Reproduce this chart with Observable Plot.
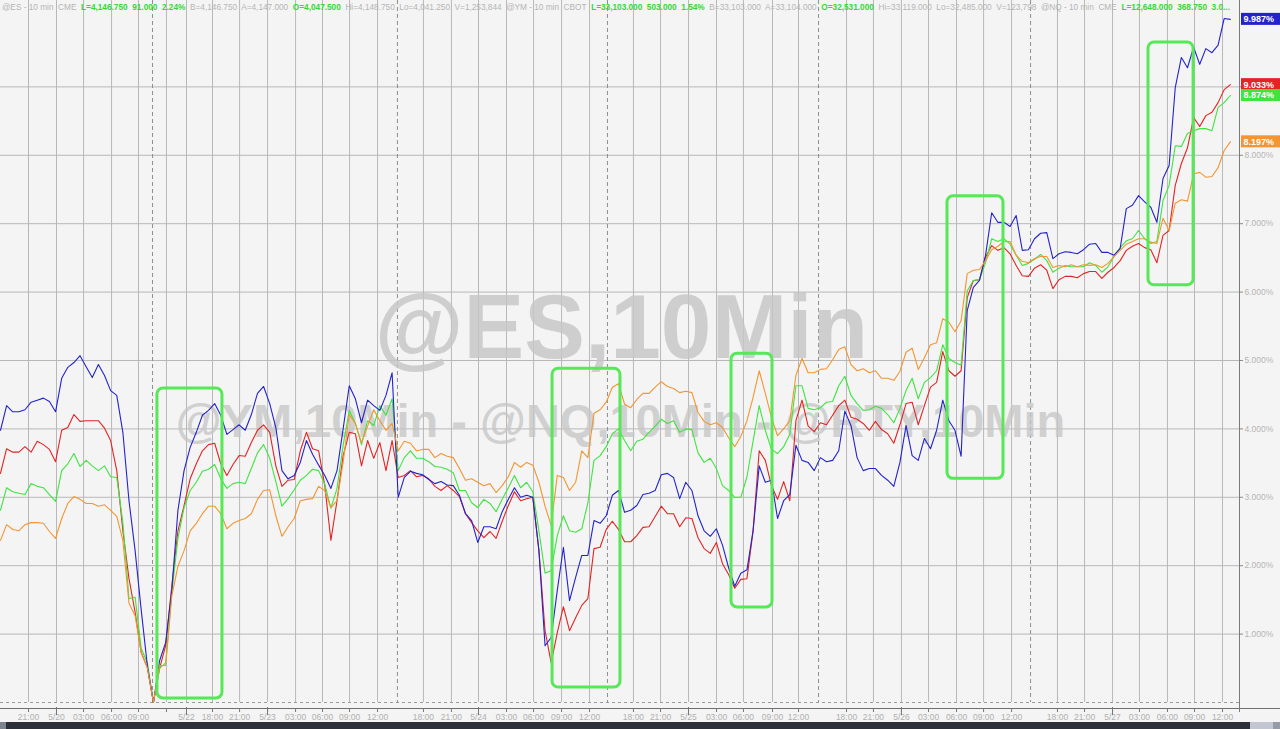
<!DOCTYPE html>
<html><head><meta charset="utf-8">
<script src="https://cdn.jsdelivr.net/npm/d3@7"></script>
<script src="https://cdn.jsdelivr.net/npm/@observablehq/plot@0.6"></script>
<style>
html,body{margin:0;padding:0;background:#f4f4f4;}
#wrap{position:relative;width:1280px;height:729px;overflow:hidden;background:#f4f4f4;font-family:"Liberation Sans",Arial,sans-serif;}
#chart svg{display:block;}
#header{position:absolute;left:0;top:0;}
#bar{position:absolute;left:0;top:722px;width:1280px;height:7px;background:#2c2f37;}
#bar .l{position:absolute;left:0;top:0;width:6px;height:7px;background:#7d8391;}
#bar .t{position:absolute;left:1250px;top:0;width:23px;height:7px;background:#c3c6d0;}
#bar .r{position:absolute;left:1273px;top:0;width:7px;height:7px;background:#969ba7;}
</style></head><body>
<div id="wrap"><div id="chart"></div><svg id="header" width="1280" height="13"></svg><div id="bar"><div class="l"></div><div class="t"></div><div class="r"></div></div></div>
<script>
// 10-minute bars; one sample every 4 bars (40 min of chart time)
const barsPerSample = 4;

// @ES (red), % change from the low
const es = [3.35,3.71,3.66,3.66,3.74,3.66,3.82,3.77,3.70,3.52,
3.98,4.02,4.21,4.11,4.12,4.12,4.12,4.01,3.83,3.39,
2.51,1.81,1.32,0.73,0.51,0.00,0.50,0.83,1.71,2.51,
2.88,3.27,3.49,3.68,3.77,3.79,3.49,3.32,3.48,3.61,
3.60,3.80,3.98,4.06,3.95,3.46,3.16,3.25,3.26,3.68,
3.95,3.71,3.68,3.17,2.37,2.95,3.61,3.95,3.93,3.46,
3.83,3.57,3.80,3.39,3.83,3.29,3.32,3.39,3.30,3.32,
3.27,3.16,3.10,3.17,3.10,3.01,2.76,2.63,2.51,2.41,
2.50,2.40,2.65,2.88,3.08,2.95,2.98,3.00,2.22,1.05,
0.58,1.02,1.40,1.05,1.24,1.42,1.52,2.25,2.27,2.53,
2.65,2.53,2.35,2.35,2.44,2.56,2.57,2.72,2.87,2.76,
2.76,2.57,2.70,2.69,2.41,2.25,2.18,2.34,2.03,1.87,
1.67,1.80,1.81,2.51,3.68,3.54,3.17,2.97,3.23,2.95,
4.12,4.42,4.04,3.96,4.09,4.06,4.20,4.34,4.42,4.17,
4.14,4.08,3.98,4.11,3.99,3.93,3.79,4.06,4.37,4.39,
4.06,4.34,4.61,4.68,5.13,4.85,4.77,4.85,5.92,6.17,
6.18,6.51,6.68,6.61,6.65,6.56,6.39,6.24,6.23,6.35,
6.40,6.32,6.05,6.18,6.23,6.23,6.21,6.27,6.30,6.30,
6.20,6.29,6.36,6.46,6.61,6.67,6.71,6.65,6.62,6.43,
6.83,6.90,7.56,7.88,8.11,8.55,8.42,8.58,8.63,8.77,
8.96,9.033];

// @YM (green)
const ym = [2.81,3.14,3.08,3.06,3.04,3.20,3.16,3.14,3.04,2.94,
3.39,3.49,3.64,3.45,3.54,3.46,3.39,3.46,3.30,3.29,
2.63,1.52,1.54,0.79,0.58,0.00,0.50,0.58,1.61,2.40,
2.85,3.10,3.22,3.38,3.41,3.48,3.27,3.13,3.20,3.22,
3.20,3.42,3.65,3.77,3.57,3.23,2.87,2.98,3.11,3.25,
3.32,3.41,3.39,3.19,2.84,3.13,3.76,4.27,4.08,3.77,
4.12,4.05,4.34,4.20,4.44,3.39,3.58,3.68,3.57,3.57,
3.52,3.45,3.44,3.41,3.36,3.10,3.10,2.92,2.85,2.97,
2.91,2.79,2.97,3.14,3.32,3.14,3.22,3.08,2.51,1.89,
1.93,2.44,2.73,2.51,2.49,2.54,2.92,3.54,3.61,3.74,
3.93,4.00,3.83,3.68,3.82,3.85,3.95,4.04,4.14,4.08,
4.12,3.95,4.00,3.99,3.65,3.51,3.57,3.42,3.17,3.10,
3.00,3.00,3.30,3.82,4.34,3.98,3.70,3.64,3.74,3.92,
4.63,4.63,4.30,4.28,4.31,4.39,4.40,4.63,4.77,4.49,
4.37,4.27,4.28,4.33,4.30,4.21,4.09,4.30,4.56,4.74,
4.44,4.68,4.75,4.85,5.23,5.03,4.97,4.93,6.02,6.17,
6.18,6.43,6.78,6.74,6.78,6.70,6.54,6.39,6.42,6.48,
6.55,6.46,6.29,6.35,6.39,6.37,6.37,6.37,6.43,6.39,
6.29,6.37,6.52,6.65,6.75,6.78,6.90,6.78,6.71,6.74,
7.34,7.56,8.14,8.13,8.32,8.36,8.39,8.39,8.36,8.70,
8.77,8.874];

// @NQ (blue)
const nq = [3.98,4.34,4.25,4.25,4.28,4.39,4.42,4.45,4.40,4.25,
4.74,4.90,4.97,5.07,4.91,4.75,4.94,4.78,4.56,4.49,
3.95,2.95,2.22,1.35,0.54,0.00,0.61,0.88,1.64,2.81,
3.39,3.73,3.95,4.20,4.27,4.37,4.20,3.92,3.99,4.06,
3.98,4.21,4.52,4.62,4.37,4.02,3.39,3.27,3.32,3.51,
3.83,3.63,3.47,3.32,3.13,3.39,4.00,4.63,4.44,4.09,
4.42,4.34,4.27,4.49,4.82,3.00,3.29,3.38,3.35,3.33,
3.26,3.20,3.23,3.18,3.17,3.03,2.76,2.66,2.34,2.57,
2.57,2.54,2.79,2.97,3.14,3.00,3.03,3.00,2.22,0.83,
0.95,1.64,2.27,1.49,1.83,2.15,2.15,2.66,2.62,2.73,
3.03,3.10,2.78,2.81,2.88,3.04,3.06,3.10,3.33,3.35,
3.29,2.98,3.22,3.10,2.73,2.51,2.43,2.54,2.30,1.97,
1.70,1.89,1.94,2.51,3.46,3.22,3.25,2.69,2.95,3.04,
3.76,3.54,3.51,3.39,3.58,3.52,3.54,3.68,4.26,4.05,
3.58,3.39,3.42,3.42,3.32,3.25,3.16,3.51,4.05,3.61,
3.54,3.86,3.71,3.98,4.42,4.12,3.98,3.60,5.73,6.07,
6.17,6.54,7.16,7.02,7.02,6.96,7.12,6.61,6.62,6.78,
6.86,6.87,6.49,6.56,6.59,6.58,6.56,6.62,6.70,6.71,
6.58,6.58,6.54,6.64,7.22,7.27,7.41,7.32,7.24,7.02,
7.66,7.85,8.99,9.43,9.28,9.58,9.33,9.56,9.50,9.61,
10.00,9.987];

// @RTY (orange)
const rty = [2.37,2.60,2.53,2.51,2.60,2.63,2.63,2.62,2.50,2.40,
2.69,2.91,3.01,2.97,2.91,2.91,2.87,2.89,2.81,2.72,
2.37,1.45,1.27,0.73,0.51,0.00,0.54,0.54,1.56,1.99,
2.22,2.51,2.62,2.76,2.87,2.87,2.76,2.54,2.62,2.66,
2.69,2.76,2.97,3.10,3.11,2.73,2.43,2.57,2.69,2.95,
2.97,2.98,3.16,3.10,2.85,2.95,3.51,4.21,4.08,3.80,
4.04,4.28,4.12,3.98,4.08,3.68,3.82,3.79,3.68,3.70,
3.70,3.58,3.64,3.60,3.58,3.42,3.25,3.27,3.22,3.17,
3.20,3.07,3.17,3.30,3.51,3.44,3.51,3.47,3.22,2.87,
2.59,3.32,3.29,3.10,3.22,3.68,3.58,4.23,4.28,4.39,
4.61,4.66,4.36,4.31,4.43,4.52,4.52,4.61,4.69,4.62,
4.59,4.53,4.55,4.53,4.24,4.11,4.06,4.09,4.02,3.87,
3.74,3.89,4.12,4.46,4.85,4.52,4.17,3.90,4.00,4.12,
4.78,5.03,4.82,4.82,4.87,4.88,5.01,5.16,5.20,4.94,
4.85,4.88,4.82,4.85,4.74,4.74,4.71,4.84,5.12,5.18,
4.87,5.04,5.23,5.26,5.61,5.56,5.42,5.58,6.27,6.32,
6.33,6.46,6.62,6.67,6.74,6.74,6.54,6.45,6.43,6.49,
6.52,6.52,6.36,6.39,6.37,6.40,6.37,6.40,6.39,6.40,
6.36,6.42,6.52,6.61,6.70,6.74,6.78,6.78,6.73,6.71,
7.08,6.90,7.30,7.35,7.33,7.73,7.75,7.68,7.69,7.82,
8.07,8.197];

// x axis (bar positions of the time ticks) and labels
const tickBars = [18.3,36.6,54.3,72.6,90.2,108.5,121.6,
138.6,156.3,174.6,192.9,210.5,228.2,246.5,
276.5,294.8,312.5,330.8,348.5,366.8,385.1,
413.8,431.5,449.8,468.1,485.7,504.7,521.7,
553.1,570.7,589.0,606.7,625.0,642.7,661.0,
691.0,708.7,727.0,744.6,762.9,780.6,798.9];
const tickLabels = ["21:00","5/20","03:00","06:00","09:00","","5/22",
"18:00","21:00","5/23","03:00","06:00","09:00","12:00",
"18:00","21:00","5/24","03:00","06:00","09:00","12:00",
"18:00","21:00","5/25","03:00","06:00","09:00","12:00",
"18:00","21:00","5/26","03:00","06:00","09:00","12:00",
"18:00","21:00","5/27","03:00","06:00","09:00","12:00"];
const sessionBreaks = [99.4,259.5,396.8,534.8,673.4];
const yTicks = [1,2,3,4,5,6,7,8,9];

// highlighted windows (bars, %)
const boxStart  = [102.6,360.9,477.9,619.1,750.5];
const boxEnd    = [145.1,405.3,504.7,655.7,780.0];
const boxTop    = [4.59,4.88,5.10,7.40,9.65];
const boxBottom = [0.06,0.22,1.39,3.27,6.10];

const watermark1 = "@ES,10Min";
const watermark2 = "@YM,10Min - @NQ,10Min - @RTY,10Min";

const headerParts = [
 ["@ES - 10 min  CME  ",0],["L=4,146.750  91.000  2.24%  ",1],["B=4,146.750  A=4,147.000  ",0],
 ["O=4,047.500  ",1],["Hi=4,148.750  Lo=4,041.250  V=1,253,844  @YM - 10 min  CBOT  ",0],
 ["L=33,103.000  503.000  1.54%  ",1],["B=33,103.000  A=33,104.000  ",0],["O=32,531.000  ",1],
 ["Hi=33,119.000  Lo=32,485.000  V=123,798  @NQ - 10 min  CME  ",0],["L=12,648.000  368.750  3.0...",1]
];

const series = [
  {name:"ES", values: es, color:"#e42323"},
  {name:"YM", values: ym, color:"#3fe43f"},
  {name:"NQ", values: nq, color:"#2323cc"},
  {name:"RTY", values: rty, color:"#f39530"}
];
const seriesRows = s => s.values.map((v, i) => ({bar: i * barsPerSample, v}));
const labelOf = new Map(tickBars.map((b, i) => [b, tickLabels[i]]));
const dateBars = tickBars.filter((b, i) => tickLabels[i].includes("/"));
const boxes = boxStart.map((s, i) => ({x1: s, x2: boxEnd[i], y1: boxBottom[i], y2: boxTop[i]}));
const xEnd = 810;
const FONT = "Liberation Sans, Arial, sans-serif";

const marks = [
  Plot.ruleY(yTicks, {stroke: "#b8b8b8"}),
  Plot.ruleX(tickBars, {stroke: "#b8b8b8"}),
  Plot.ruleX(sessionBreaks, {stroke: "#8e8e8e", strokeDasharray: "4,3"}),
  Plot.text([watermark1], {frameAnchor: "top-left", dx: 621, dy: 328, fontSize: 91, fontWeight: "bold", fill: "#c6c6c6", fillOpacity: 0.82, textAnchor: "middle", lineAnchor: "middle", fontFamily: FONT}),
  Plot.text([watermark2], {frameAnchor: "top-left", dx: 620, dy: 421, fontSize: 47, fontWeight: "bold", fill: "#c6c6c6", fillOpacity: 0.78, textAnchor: "middle", lineAnchor: "middle", fontFamily: FONT}),
  Plot.ruleY([0], {stroke: "#9a9a9a", strokeDasharray: "3,3"}),
  Plot.ruleY([0], {stroke: "#6f6f6f", dy: 6, insetRight: -41}),
  Plot.ruleX([xEnd], {stroke: "#7a7a7a", insetBottom: -10}),
  ...series.map(s => Plot.line(seriesRows(s), {x: "bar", y: "v", stroke: s.color, strokeWidth: 1.1})),
  Plot.rect(boxes, {x1: "x1", x2: "x2", y1: "y1", y2: "y2", stroke: "#56e856", strokeWidth: 3, fill: "none", rx: 6}),
  Plot.axisY({ticks: yTicks, anchor: "right", tickFormat: d => d.toFixed(3) + "%", tickSize: 3, tickPadding: 2, fontSize: 8.5, stroke: "#8a8a8a", fill: "#b4b4b4", label: null, fontFamily: FONT}),
  Plot.axisX({ticks: tickBars, tickFormat: d => labelOf.get(d), tickSize: 4, tickPadding: 1, dy: 6, fontSize: 8.5, stroke: "#777", fill: "#b0b0b0", label: null, fontFamily: FONT}),
  Plot.axisX({ticks: dateBars, tickFormat: () => "", tickSize: 8, dy: 5, stroke: "#777", label: null}),
  ...series.map(s => {
    const last = s.values[s.values.length - 1];
    return Plot.rect([last], {x1: () => xEnd, x2: () => xEnd, y1: d => d, y2: d => d, insetLeft: 2, insetRight: -41, insetTop: -6, insetBottom: -6, fill: s.color});
  }),
  ...series.map(s => {
    const last = s.values[s.values.length - 1];
    return Plot.text([last], {x: () => xEnd, y: d => d, text: d => d.toFixed(3) + "%", dx: 4, textAnchor: "start", fill: "white", fontSize: 9, fontWeight: "bold", fontFamily: FONT});
  })
];

const chart = Plot.plot({
  width: 1280, height: 722,
  marginLeft: 0, marginRight: 41, marginTop: 0, marginBottom: 20,
  style: {background: "#f4f4f4", fontFamily: FONT},
  x: {domain: [0, xEnd], axis: null},
  y: {domain: [0, 10.263], axis: null},
  marks
});
document.getElementById("chart").appendChild(chart);

// header line: narrow font, each segment its own text, font sized so the row fits
const HFONT = "Liberation Sans Narrow, Liberation Sans, Arial, sans-serif";
const hdr = d3.select("#header");
const baseSize = 9.5;
const measured = headerParts.map(([txt, hi]) => {
  const el = hdr.append("text").attr("y", 9.5)
    .attr("font-family", HFONT).attr("font-size", baseSize)
    .attr("font-weight", hi ? "bold" : "normal")
    .attr("fill", hi ? "#34d834" : "#b4b4b4")
    .style("white-space", "pre").text(txt);
  const full = el.node().getComputedTextLength();
  el.text(txt.trimEnd());
  return {el, full};
});
const totalW = d3.sum(measured, m => m.full);
const k = Math.min(1.05, 1228 / totalW);
let cx = 2;
measured.forEach(m => {
  m.el.attr("font-size", baseSize * k).attr("x", cx);
  cx += m.full * k;
});
</script>
</body></html>
